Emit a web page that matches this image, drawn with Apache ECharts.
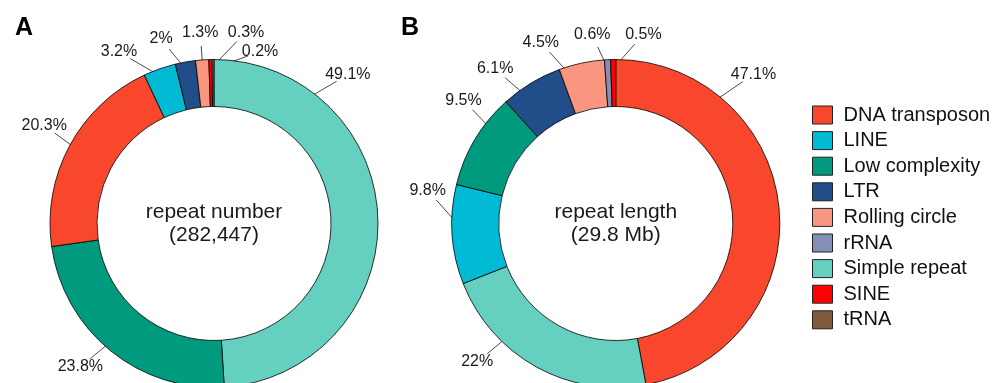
<!DOCTYPE html>
<html>
<head>
<meta charset="utf-8">
<script src="https://cdn.jsdelivr.net/npm/echarts@6/dist/echarts.min.js"></script>
<style>
html,body{margin:0;padding:0;background:#fff;}
#chart{width:997px;height:383px;}
</style>
</head>
<body>
<div id="chart"></div>
<script>
// ---- data ----
const legendCategories = ['DNA transposon','LINE','Low complexity','LTR','Rolling circle','rRNA','Simple repeat','SINE','tRNA'];
const numberCategories = ['Simple repeat','Low complexity','DNA transposon','LINE','LTR','Rolling circle','SINE','tRNA'];
const numberValues = [49.1, 23.8, 20.3, 3.2, 2, 1.3, 0.3, 0.2];
const lengthCategories = ['DNA transposon','Simple repeat','LINE','Low complexity','LTR','Rolling circle','rRNA','SINE'];
const lengthValues = [47.1, 22, 9.8, 9.5, 6.1, 4.5, 0.6, 0.5];
const centerTextA = 'repeat number\n(282,447)';
const centerTextB = 'repeat length\n(29.8 Mb)';

// ---- styles / layout ----
const colorMap = {
  'DNA transposon':'#F9472D','LINE':'#00BBD3','Low complexity':'#009A7E','LTR':'#214D89',
  'Rolling circle':'#FA9680','rRNA':'#8290B6','Simple repeat':'#66D0C0','SINE':'#FF0000','tRNA':'#7F5B3F'
};
const FONT = '"Liberation Sans", Arial, Helvetica, sans-serif';
const centers = { A: [214, 223.5], B: [615.8, 223.5] };
const R_IN = 117, R_OUT = 164, R_ANCHOR = 155, R_LABEL = 196, GAP = 13;
// label placement tweaks (degrees clockwise from 12 o'clock), mimicking repelled labels
const placement = {
  A: { 0:{anchor:36.5,label:42,r:200}, 1:{anchor:221,label:223}, 2:{label:300}, 3:{label:331}, 4:{label:344,r:192}, 5:{r:191},
       6:{label:9.5,r:194}, 7:{label:15,r:178} },
  B: { 0:{anchor:38.6,label:42.7,r:203}, 1:{anchor:223.6,label:225}, 2:{anchor:268.5,label:280,r:191},
       3:{anchor:307,label:309}, 4:{anchor:325,label:322}, 5:{anchor:343,label:337.5},
       6:{anchor:357,label:352.9,r:190}, 7:{anchor:359,label:8.3,r:191} }
};

function midAngles(values){
  const tot = values.reduce((a,b)=>a+b,0);
  let c = 0; return values.map(v => { const m = (c + v/2)/tot*360; c += v; return m; });
}
function polar(ctr, r, deg){
  const a = deg*Math.PI/180;
  return [ctr[0] + r*Math.sin(a), ctr[1] - r*Math.cos(a)];
}
function makeLayout(key, values){
  const mids = midAngles(values);
  return function(p){
    const cfg = placement[key][p.dataIndex] || {};
    const ctr = centers[key];
    const aAng = cfg.anchor != null ? cfg.anchor : mids[p.dataIndex];
    const lAng = cfg.label != null ? cfg.label : aAng;
    const lr = cfg.r != null ? cfg.r : R_LABEL;
    const a = polar(ctr, R_ANCHOR, aAng);
    const l = polar(ctr, lr, lAng);
    const dx = l[0]-a[0], dy = l[1]-a[1];
    const len = Math.sqrt(dx*dx+dy*dy);
    const e = [l[0]-dx/len*GAP, l[1]-dy/len*GAP];
    const m = [(a[0]+e[0])/2, (a[1]+e[1])/2];
    return { x: l[0], y: l[1], align:'center', verticalAlign:'middle', labelLinePoints:[a, m, e] };
  };
}
function pieSeries(key, cats, vals){
  return {
    type:'pie', name:key, center: centers[key], radius:[R_IN, R_OUT],
    startAngle:90, clockwise:true, avoidLabelOverlap:false, animation:false,
    itemStyle:{ borderColor:'#000', borderWidth:0.8 },
    label:{ show:true, formatter:'{c}%', fontFamily:FONT, fontSize:16, color:'#1a1a1a' },
    labelLine:{ show:true, length:10, length2:0, lineStyle:{ color:'#1a1a1a', width:0.8 } },
    labelLayout: makeLayout(key, vals),
    emphasis:{ disabled:true },
    data: cats.map((c,i)=>({ name:c, value:vals[i], itemStyle:{ color: colorMap[c] } }))
  };
}

const chart = echarts.init(document.getElementById('chart'), null, {renderer:'canvas'});
chart.setOption({
  backgroundColor:'#fff',
  animation:false,
  legend:{
    orient:'vertical', left:812, top:105, padding:0,
    itemWidth:20, itemHeight:18, itemGap:5.6, icon:'rect',
    itemStyle:{ borderColor:'#222', borderWidth:1 },
    textStyle:{ fontFamily:FONT, fontSize:20, lineHeight:19, color:'#111', padding:[0,0,0,6] },
    data: legendCategories, selectedMode:false
  },
  graphic:[
    { type:'text', x:24, y:28, style:{ text:'A', font:'bold 25px '+FONT, fill:'#000', textAlign:'center', textVerticalAlign:'middle' } },
    { type:'text', x:410, y:28, style:{ text:'B', font:'bold 25px '+FONT, fill:'#000', textAlign:'center', textVerticalAlign:'middle' } },
    { type:'text', x:centers.A[0], y:centers.A[1], style:{ text:centerTextA, font:'21px '+FONT, lineHeight:23, fill:'#1a1a1a', textAlign:'center', textVerticalAlign:'middle' } },
    { type:'text', x:centers.B[0], y:centers.B[1], style:{ text:centerTextB, font:'21px '+FONT, lineHeight:23, fill:'#1a1a1a', textAlign:'center', textVerticalAlign:'middle' } }
  ],
  series:[ pieSeries('A', numberCategories, numberValues), pieSeries('B', lengthCategories, lengthValues) ]
});
</script>
</body>
</html>
